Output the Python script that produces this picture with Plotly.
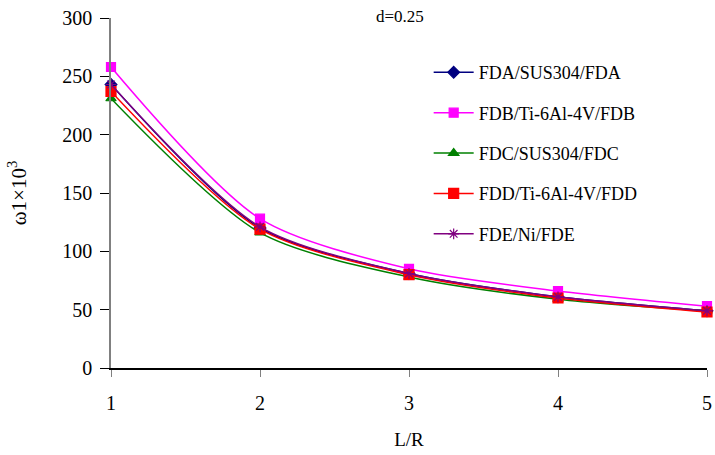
import plotly.graph_objects as go

# L/R values and first natural frequency (x10^3)
lr = [1, 2, 3, 4, 5]
fda = [243, 120, 81, 61, 49]
fdb = [258, 128, 85, 66, 53]
fdc = [231, 116, 78, 59, 49]
fdd = [237, 119, 80, 60, 48]
fde = [243, 121, 81, 61, 49]

SERIF = "Liberation Serif"

series = [
    ("FDA/SUS304/FDA", fda, "#000080", "diamond", 9),
    ("FDB/Ti-6Al-4V/FDB", fdb, "#FF00FF", "square", 9),
    ("FDC/SUS304/FDC", fdc, "#008000", "triangle-up", 9),
    ("FDD/Ti-6Al-4V/FDD", fdd, "#FF0000", "square", 10),
    ("FDE/Ni/FDE", fde, "#800080", "asterisk-open", 9),
]

fig = go.Figure()
for name, vals, col, sym, sz in series:
    fig.add_trace(go.Scatter(
        x=lr, y=vals, name=name, mode="lines+markers", legendgroup=name,
        line=dict(color=col, width=1.5, shape="spline", smoothing=0.8),
        marker=dict(symbol=sym, size=sz, color=col, line=dict(color=col, width=1.2)),
        cliponaxis=False,
    ))

fig.update_layout(
    width=715, height=455,
    margin=dict(l=111, r=8, t=18, b=87),
    plot_bgcolor="white", paper_bgcolor="white",
    font=dict(family=SERIF, size=19, color="black"),
    legend=dict(x=0.533, y=0.897, xanchor="left", yanchor="top",
                font=dict(family=SERIF, size=18), tracegroupgap=14, itemwidth=40,
                bgcolor="rgba(0,0,0,0)"),
    annotations=[dict(text="d=0.25", x=2.94, y=1.005, xref="x", yref="paper",
                      yanchor="middle", showarrow=False,
                      font=dict(family=SERIF, size=17))],
)

fig.update_xaxes(range=[1, 5], tickvals=lr, showgrid=False, zeroline=False,
                 showline=True, linecolor="black", linewidth=1.5,
                 ticks="outside", ticklen=7, tickcolor="#808080",
                 tickfont=dict(family=SERIF, size=20), automargin=False,
                 ticklabelstandoff=9, ticklabeloverflow="allow",
                 title=dict(text="L/R", standoff=20, font=dict(family=SERIF, size=19)))
fig.update_yaxes(range=[0, 300], dtick=50, showgrid=False, zeroline=False,
                 showline=True, linecolor="#808080", linewidth=1.5,
                 ticks="outside", ticklen=9, tickcolor="black", automargin=False,
                 tickfont=dict(family=SERIF, size=20), ticklabelstandoff=4,
                 title=dict(text="ω1×10<sup>3</sup>", standoff=30,
                            font=dict(family=SERIF, size=21)))

# drop the default page margin so the figure sits at the window's corner
fig.write_html("out.html", config={"displayModeBar": False},
               post_script="document.body.style.margin='0';")
